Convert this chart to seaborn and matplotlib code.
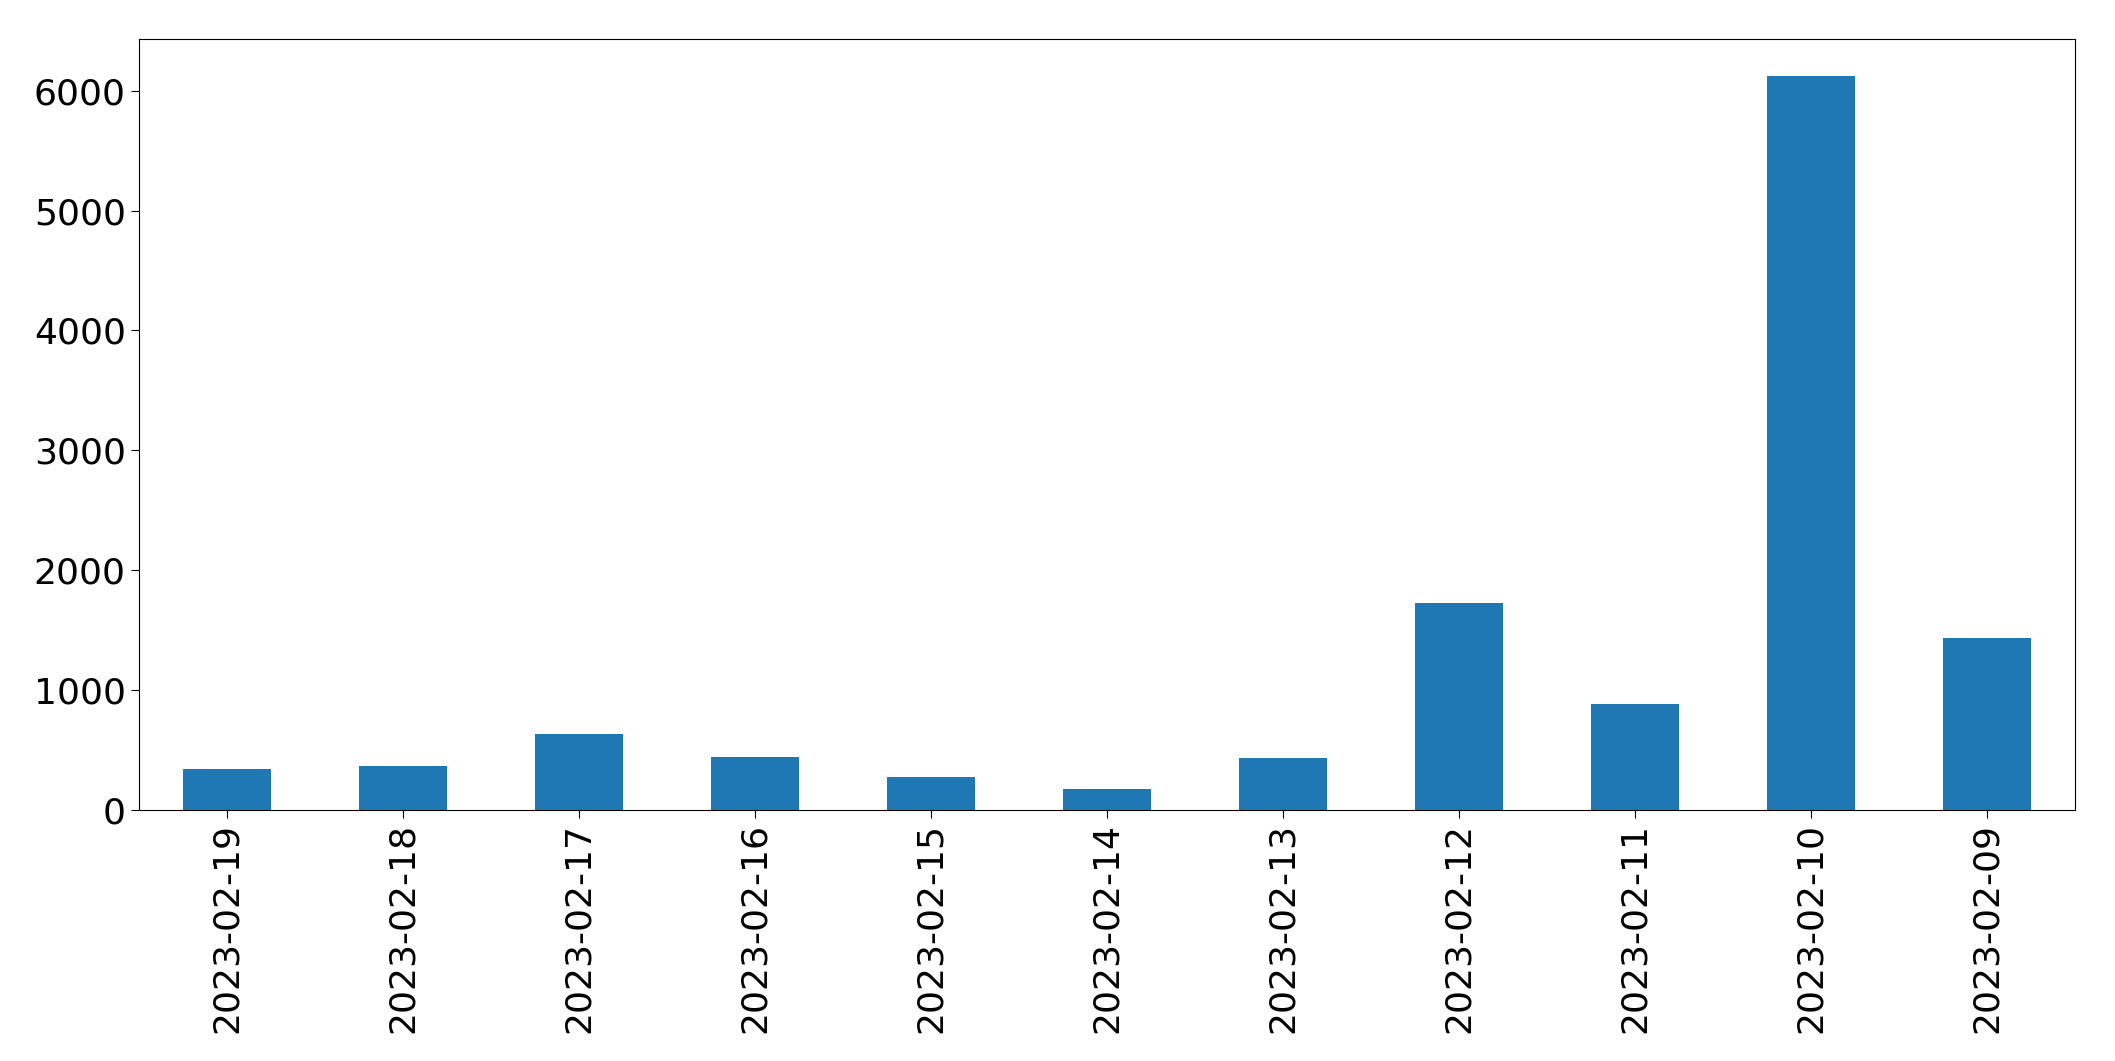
import matplotlib
matplotlib.use("Agg")
import matplotlib.pyplot as plt
import seaborn as sns
import pandas as pd

dates = ["2023-02-19","2023-02-18","2023-02-17","2023-02-16","2023-02-15","2023-02-14",
         "2023-02-13","2023-02-12","2023-02-11","2023-02-10","2023-02-09"]
counts = [338, 361, 632, 440, 271, 169, 429, 1725, 880, 6124, 1432]

df = pd.DataFrame({"date": dates, "count": counts})

fig = plt.figure(figsize=(21.15, 10.61), dpi=100)
ax = fig.add_axes([0.0657, 0.237, 0.9153, 0.726])
sns.barplot(data=df, x="date", y="count", color="#1f77b4", saturation=1, width=0.5, ax=ax)
ax.set_xlabel("")
ax.set_ylabel("")
ax.set_xlim(-0.5, len(dates) - 0.5)
ax.set_ylim(0, 6430)
ax.tick_params(axis="both", labelsize=26, length=6)
ax.tick_params(axis="x", rotation=90)
fig.savefig("out.png", dpi=100)
